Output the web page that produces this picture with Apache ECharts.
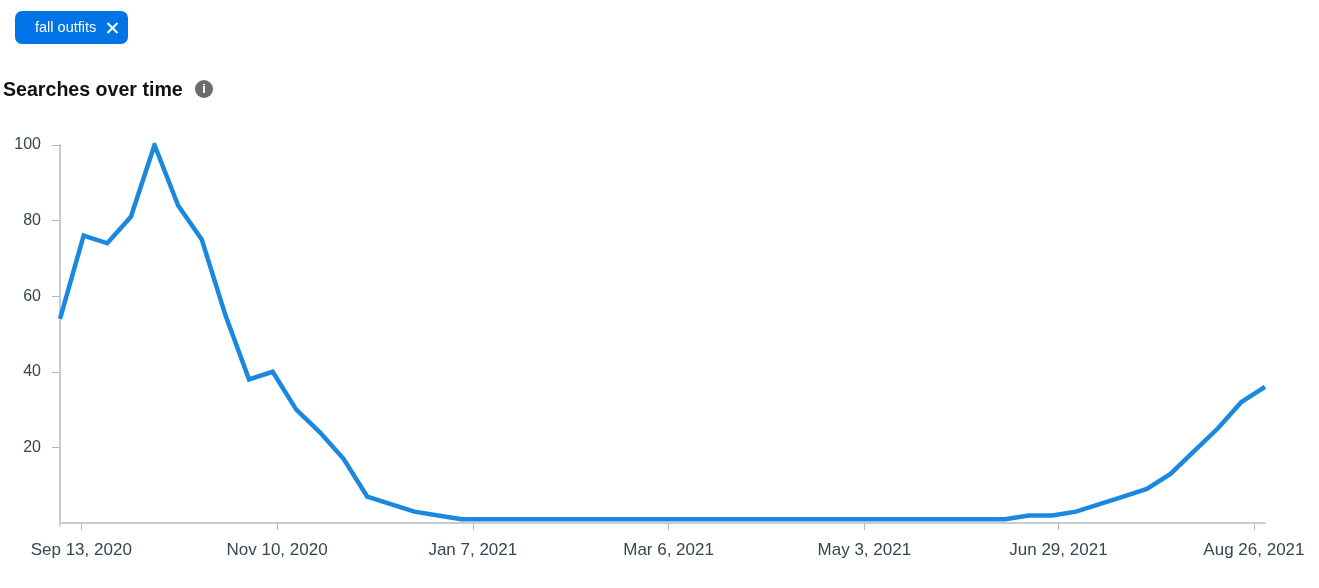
<!DOCTYPE html>
<html>
<head>
<meta charset="utf-8">
<style>html,body{margin:0;padding:0;background:#fff}#c{width:1319px;height:588px}</style>
<script src="https://cdn.jsdelivr.net/npm/echarts@6/dist/echarts.min.js"></script>
</head>
<body>
<div id="c"></div>
<script>
const chipLabel = 'fall outfits';
const chartTitle = 'Searches over time';
const seriesName = 'fall outfits';
const firstWeek = '2020-09-06T16:48:00Z';
const searches = [54,76,74,81,100,84,75,55,38,40,30,24,17,7,5,3,2,1,1,1,1,1,1,1,1,1,1,1,1,1,1,1,1,1,1,1,1,1,1,1,1,2,2,3,5,7,9,13,19,25,32,36];
const tickDates = ['2020-09-13T00:00:00Z','2020-11-10T00:00:00Z','2021-01-07T00:00:00Z','2021-03-06T00:00:00Z','2021-05-03T00:00:00Z','2021-06-29T12:00:00Z','2021-08-26T10:00:00Z'];
const tickLabels = ['Sep 13, 2020','Nov 10, 2020','Jan 7, 2021','Mar 6, 2021','May 3, 2021','Jun 29, 2021','Aug 26, 2021'];
const yTicks = [20,40,60,80,100];

const WEEK = 7 * 24 * 3600 * 1000;
const t0 = Date.parse(firstWeek);
const points = searches.map((v, i) => [t0 + i * WEEK, v]);
const tickTimes = tickDates.map(d => Date.parse(d));
const FONT = '"Liberation Sans", Arial, sans-serif';

const chart = echarts.init(document.getElementById('c'), null, {renderer: 'canvas'});
chart.setOption({
  animation: false,
  backgroundColor: '#fff',
  grid: {left: 60, right: 54, top: 145, bottom: 65, containLabel: false},
  xAxis: {
    type: 'value',
    scale: true,
    min: points[0][0],
    max: points[points.length - 1][0],
    splitLine: {show: false},
    minorTick: {show: false},
    axisLine: {show: true, onZero: false, lineStyle: {color: '#c9cccf', width: 2}},
    axisTick: {show: true, customValues: tickTimes, length: 7, lineStyle: {color: '#a9bcc6', width: 1}},
    axisLabel: {
      show: true,
      customValues: tickTimes,
      hideOverlap: false,
      margin: 19,
      color: '#37474f',
      fontFamily: FONT,
      fontSize: 17,
      formatter: v => tickLabels[tickTimes.indexOf(v)] || ''
    }
  },
  yAxis: {
    type: 'value',
    min: 0,
    max: 100,
    interval: 20,
    splitLine: {show: false},
    axisLine: {show: true, lineStyle: {color: '#c9cccf', width: 2}},
    axisTick: {show: true, customValues: yTicks, length: 8, lineStyle: {color: '#a9bcc6', width: 1}},
    axisLabel: {
      show: true,
      customValues: yTicks,
      margin: 19,
      padding: [2, 0, 0, 0],
      color: '#37474f',
      fontFamily: FONT,
      fontSize: 16
    }
  },
  series: [{
    name: seriesName,
    type: 'line',
    data: points,
    showSymbol: false,
    smooth: false,
    lineStyle: {color: '#1b88df', width: 4.5, join: 'miter'},
    itemStyle: {color: '#1b88df'}
  }],
  graphic: [
    {type: 'rect', shape: {x: 15, y: 11, width: 113, height: 33, r: 7}, style: {fill: '#0073e6'}},
    {type: 'text', x: 35, y: 28, style: {text: chipLabel, fill: '#fff', font: '500 14.5px ' + FONT, textVerticalAlign: 'middle'}},
    {type: 'line', shape: {x1: 107.5, y1: 23, x2: 117.5, y2: 33}, style: {stroke: '#fff', lineWidth: 2}},
    {type: 'line', shape: {x1: 117.5, y1: 23, x2: 107.5, y2: 33}, style: {stroke: '#fff', lineWidth: 2}},
    {type: 'text', x: 3, y: 91, style: {text: chartTitle, fill: '#111', font: 'bold 19.6px ' + FONT, textVerticalAlign: 'middle'}},
    {type: 'circle', shape: {cx: 204, cy: 89, r: 9}, style: {fill: '#6b6b6b'}},
    {type: 'text', x: 204, y: 89.5, style: {text: 'i', fill: '#fff', font: 'bold 13px ' + FONT, textAlign: 'center', textVerticalAlign: 'middle'}},
    {type: 'line', shape: {x1: 60, y1: 523, x2: 60, y2: 527}, style: {stroke: '#c9cccf', lineWidth: 1.5}}
  ]
});
</script>
</body>
</html>
